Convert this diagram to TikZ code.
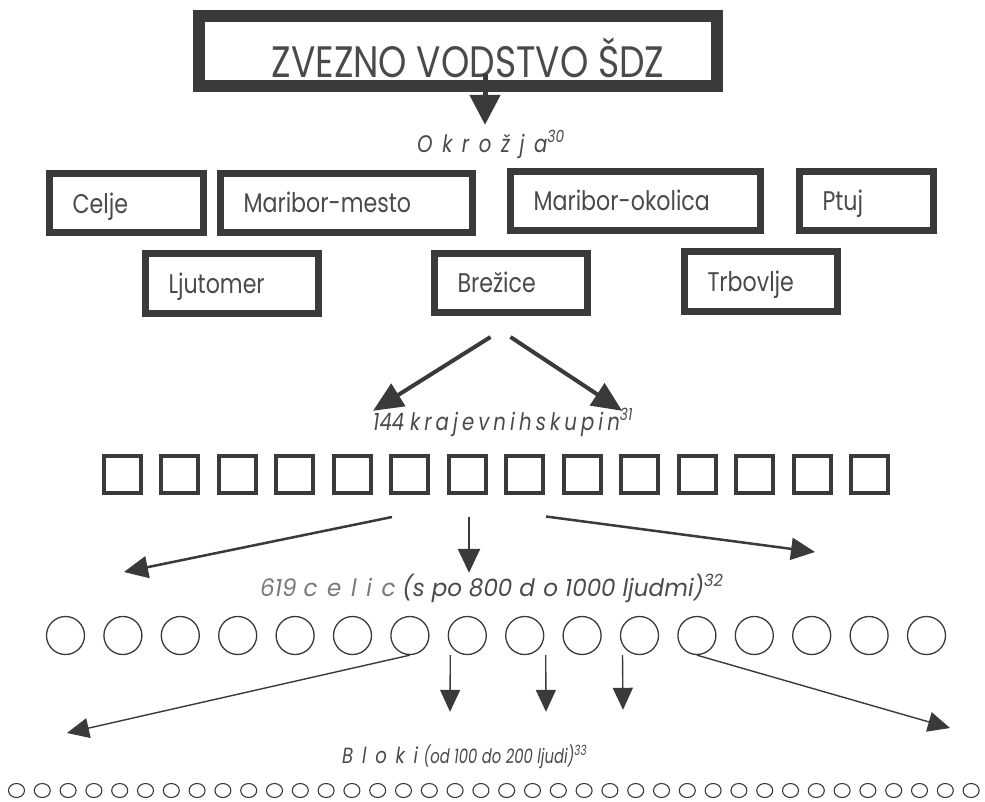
\documentclass[tikz,border=0pt]{standalone}
\usepackage{fontspec}
\setmainfont{Poppins}[FakeStretch=0.82]
\newfontfamily\sirsa{Poppins}[FakeStretch=0.96]
\newfontfamily\zelo{Poppins}[FakeStretch=0.74]
\usetikzlibrary{arrows.meta,shapes.geometric}
\definecolor{okvir}{HTML}{3A3A3A}
\definecolor{besedilo}{HTML}{4A4A4A}
\definecolor{siva}{HTML}{7A7A7A}
\newcommand\razmak[2][40]{{\addfontfeature{LetterSpace=#1}#2}}
\begin{document}
    \begin{tikzpicture}[x=1pt,y=-1pt]
        \tikzstyle{glavni}=[draw=okvir, line width=12pt, minimum width=518pt, minimum height=70pt, inner sep=0pt, text height=52pt, text depth=0pt, text=besedilo, font=\fontsize{44}{44}\selectfont]
        \tikzstyle{okraj}=[draw=okvir, line width=7pt, minimum height=59pt, inner xsep=23.5pt, inner ysep=0pt, text height=20pt, text depth=0pt, align=left, anchor=west, text=besedilo, font=\fontsize{27}{27}\selectfont]
        \tikzstyle{napis}=[inner sep=0pt, text height=17pt, text depth=0pt, anchor=base west, text=besedilo, font=\itshape\fontsize{24}{24}\selectfont]
        \tikzstyle{kvadrat}=[draw=okvir, line width=4pt, minimum size=37pt, inner sep=0pt]
        \tikzstyle{krog}=[circle, draw=okvir, line width=1.3pt, minimum size=38pt, inner sep=0pt]
        \tikzstyle{krogec}=[ellipse, draw=okvir, line width=1.1pt, minimum width=16pt, minimum height=14pt, inner sep=0pt]
        \tikzstyle{debela}=[draw=okvir, line width=5pt, -{Triangle[length=30pt,width=30pt]}]
        \tikzstyle{srednja}=[draw=okvir, line width=4pt, -{Triangle[length=30pt,width=26pt]}]
        \tikzstyle{tanjsa}=[draw=okvir, line width=2.5pt, -{Triangle[length=24pt,width=22pt]}]
        \tikzstyle{tanka}=[draw=okvir, line width=1.4pt, -{Triangle[length=22pt,width=20pt]}]
        \fill[white] (0,0) rectangle (985,801);
        \useasboundingbox (0,0) rectangle (985,801);
        \node[glavni] (vodstvo) at (458,51) {\hspace*{20pt}ZVEZNO VODSTVO ŠDZ};
        \node[napis] (okrozja) at (417,152) {\razmak{Okrožja}\textsuperscript{30}};
        \node[okraj, text width=107pt] (celje) at (45.5,203) {Celje};
        \node[okraj, text width=205pt] (mbmesto) at (216.5,202.5) {Maribor-mesto};
        \node[okraj, text width=203pt] (mbokolica) at (506.5,200.5) {Maribor-okolica};
        \node[okraj, text width=87pt] (ptuj) at (795.5,200.5) {Ptuj};
        \node[okraj, text width=126pt, minimum height=60pt] (ljutomer) at (141.5,283.5) {Ljutomer};
        \node[okraj, text width=106pt] (brezice) at (430.5,282.5) {Brežice};
        \node[okraj, text width=106pt, minimum height=60pt] (trbovlje) at (680.5,281.5) {Trbovlje};
        \node[napis] (skupine) at (373,430) {144 \razmak[17]{krajevnihskupin}\textsuperscript{31}};
        \foreach \i in {1,...,14}
            \node[kvadrat] (k\i) at ({122+57.5*(\i-1)},474) {};
        \node[napis, font=\sirsa\itshape\fontsize{24}{24}\selectfont] (celice) at (260,596) {{\color{siva}619 \razmak[40]{celic}} (s po 800 \razmak[35]{do} 1000 ljudmi)\textsuperscript{32}};
        \foreach \i in {1,...,16}
            \node[krog] (c\i) at ({65.5+57.4*(\i-1)},635.5) {};
        \node[napis, text height=15pt, font=\itshape\fontsize{22}{22}\selectfont] (bloki) at (342,763) {\razmak{Bloki} {\zelo\fontsize{20}{20}\selectfont(od 100 do 200 ljudi)\textsuperscript{33}}};
        \foreach \i in {1,...,38}
            \node[krogec] (b\i) at ({16.5+25.8*(\i-1)},790.5) {};
        \coordinate (cel-levo) at (124,572);
        \coordinate (cel-desno) at (815,552);
        \coordinate (blok-levo) at (67,733);
        \coordinate (blok-desno) at (950,728);
        \draw[debela] ([xshift=27pt,yshift=18pt]vodstvo.south) -- ([xshift=68pt,yshift=10pt]okrozja.north west);
        \draw[srednja] ([xshift=-20pt,yshift=-21.5pt]brezice.south) -- ([yshift=2pt]skupine.north west);
        \draw[srednja] ([yshift=-21.5pt]brezice.south) -- ([xshift=-11pt,yshift=2pt]skupine.north east);
        \draw[tanjsa] ([xshift=-17.5pt,yshift=-22.5pt]k6.south) -- (cel-levo);
        \draw[tanjsa] ([xshift=2pt,yshift=-22pt]k7.south) -- ([xshift=209pt,yshift=6pt]celice.north west);
        \draw[tanjsa] ([xshift=21.5pt,yshift=-22pt]k8.south) -- (cel-desno);
        \draw[tanka] (c7.south) -- (blok-levo);
        \draw[tanka] ([xshift=-17pt]c8.south) -- ([xshift=108pt,yshift=36pt]bloki.north west);
        \draw[tanka] ([xshift=21pt]c9.south) -- ([xshift=204pt,yshift=36pt]bloki.north west);
        \draw[tanka] ([xshift=-17pt]c11.south) -- ([xshift=281pt,yshift=38pt]bloki.north west);
        \draw[tanka] (c12.south) -- (blok-desno);
    \end{tikzpicture}
\end{document}
